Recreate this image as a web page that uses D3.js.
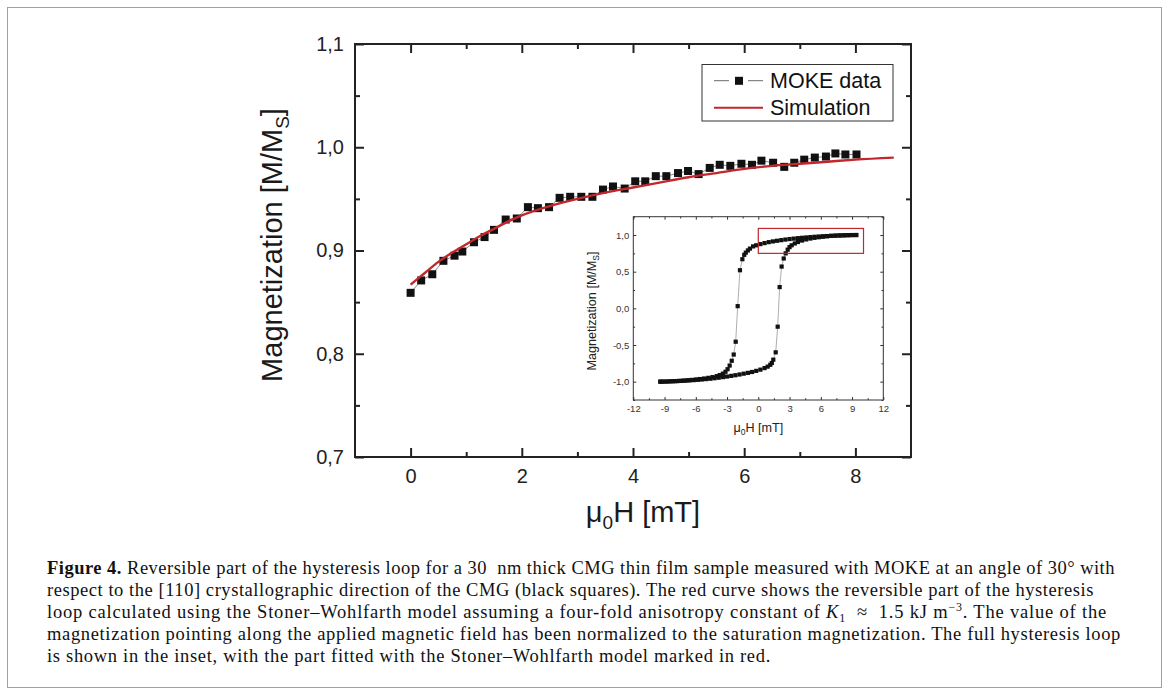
<!DOCTYPE html>
<html>
<head>
<meta charset="utf-8">
<script src="https://cdn.jsdelivr.net/npm/d3@7"></script>
<style>
  body { margin: 0; background: #fff; }
  svg { display: block; font-family: "Liberation Sans", Arial, sans-serif; }
</style>
</head>
<body>
<svg id="fig" width="1170" height="696"></svg>
<script>
// MOKE data, reversible part (mT, M/Ms)
const mokeH = [0.00, 0.19, 0.39, 0.59, 0.79, 0.93, 1.14, 1.33, 1.50, 1.71, 1.91, 2.11, 2.29, 2.49, 2.68,
  2.87, 3.07, 3.27, 3.46, 3.64, 3.85, 4.04, 4.22, 4.41, 4.60, 4.81, 4.99, 5.18, 5.38, 5.56,
  5.75, 5.95, 6.14, 6.31, 6.52, 6.72, 6.90, 7.08, 7.27, 7.47, 7.64, 7.82, 8.02];
const mokeM = [0.859, 0.871, 0.877, 0.890, 0.895, 0.899, 0.908, 0.913, 0.920, 0.930, 0.931, 0.942, 0.941, 0.942, 0.951,
  0.952, 0.952, 0.952, 0.959, 0.962, 0.960, 0.967, 0.967, 0.972, 0.972, 0.975, 0.977, 0.974, 0.980, 0.983,
  0.982, 0.984, 0.983, 0.987, 0.985, 0.981, 0.985, 0.988, 0.990, 0.991, 0.994, 0.993, 0.993];

// Stoner-Wohlfarth simulation
const simH = [0, 0.25, 0.5, 0.75, 1.0, 1.25, 1.5, 1.75, 2.0, 2.5, 3.0, 3.5, 4.0, 4.5, 5.0, 5.5, 6.0, 6.5, 7.0, 7.5, 8.0, 8.69];
const simM = [0.867, 0.878, 0.889, 0.898, 0.906, 0.914, 0.921, 0.928, 0.934, 0.943, 0.950, 0.956, 0.961, 0.966, 0.971, 0.975, 0.979, 0.982, 0.984, 0.986, 0.988, 0.990];

// inset: full loop, descending branch
const downH = [9.4, 9.0, 8.6, 8.2, 7.8, 7.4, 7.0, 6.6, 6.2, 5.8, 5.4, 5.0, 4.6, 4.2, 3.8, 3.4, 3.0, 2.6, 2.2, 1.8,
  1.4, 1.0, 0.6, 0.2, -0.2, -0.5, -0.8, -1.0, -1.2, -1.35, -1.53, -1.76, -1.98, -2.17, -2.36, -2.55, -2.75, -2.95,
  -3.15, -3.4, -3.7, -4.0, -4.4, -4.8, -5.2, -5.6, -6.0, -6.4, -6.8, -7.2, -7.6, -8.0, -8.4, -8.8, -9.2, -9.4];
const downM = [1.0, 0.999, 0.997, 0.995, 0.993, 0.991, 0.989, 0.986, 0.983, 0.980, 0.976, 0.972, 0.967, 0.962, 0.957, 0.951, 0.945, 0.938, 0.930, 0.922,
  0.913, 0.903, 0.890, 0.876, 0.860, 0.845, 0.815, 0.790, 0.760, 0.730, 0.670, 0.520, 0.030, -0.455, -0.630, -0.715, -0.780, -0.830,
  -0.865, -0.890, -0.910, -0.925, -0.938, -0.948, -0.957, -0.964, -0.970, -0.976, -0.981, -0.985, -0.989, -0.992, -0.995, -0.998, -1.0, -1.0];
// inset: ascending branch
const upH = [-9.4, -9.0, -8.6, -8.2, -7.8, -7.4, -7.0, -6.6, -6.2, -5.8, -5.4, -5.0, -4.6, -4.2, -3.8, -3.4, -3.0, -2.6, -2.2, -1.8,
  -1.4, -1.0, -0.6, -0.2, 0.2, 0.6, 0.9, 1.15, 1.3, 1.44, 1.67, 1.86, 2.05, 2.24, 2.44, 2.63, 2.82, 3.0, 3.2, 3.5,
  3.8, 4.2, 4.6, 5.0, 5.4, 5.8, 6.2, 6.6, 7.0, 7.4, 7.8, 8.2, 8.6, 9.0, 9.4];
const upM = [-1.0, -0.999, -0.997, -0.995, -0.993, -0.990, -0.987, -0.983, -0.979, -0.975, -0.970, -0.965, -0.960, -0.953, -0.946, -0.938, -0.930, -0.921, -0.912, -0.902,
  -0.891, -0.880, -0.868, -0.853, -0.836, -0.815, -0.795, -0.770, -0.745, -0.700, -0.600, -0.250, 0.290, 0.570, 0.680, 0.750, 0.800, 0.835, 0.860, 0.885,
  0.905, 0.925, 0.940, 0.952, 0.962, 0.970, 0.977, 0.983, 0.988, 0.992, 0.995, 0.997, 0.999, 1.0, 1.0];

// part of the loop fitted (red box in the inset)
const boxH = [0, 10.1];
const boxM = [0.75, 1.09];

// ticks
const xMajor = [0, 2, 4, 6, 8], xMinor = [1, 3, 5, 7];
const yMajor = [0.7, 0.8, 0.9, 1.0, 1.1], yMinor = [0.75, 0.85, 0.95, 1.05];
const ixMajor = [-12, -9, -6, -3, 0, 3, 6, 9, 12], ixMinor = [-10.5, -7.5, -4.5, -1.5, 1.5, 4.5, 7.5, 10.5];
const iyMajor = [-1.0, -0.5, 0.0, 0.5, 1.0], iyMinor = [-1.25, -0.75, -0.25, 0.25, 0.75, 1.25];

const legendNames = ["MOKE data", "Simulation"];

const captionLines = [
  "Reversible part of the hysteresis loop for a 30  nm thick CMG thin film sample measured with MOKE at an angle of 30° with",
  "respect to the [110] crystallographic direction of the CMG (black squares). The red curve shows the reversible part of the hysteresis",
  "loop calculated using the Stoner–Wohlfarth model assuming a four-fold anisotropy constant of ",
  "magnetization pointing along the applied magnetic field has been normalized to the saturation magnetization. The full hysteresis loop",
  "is shown in the inset, with the part fitted with the Stoner–Wohlfarth model marked in red."
];

const RED = "#c1272d";
const svg = d3.select("#fig");
svg.append("rect").attr("width", 1170).attr("height", 696).attr("fill", "#fff");
svg.append("rect").attr("x", 7.5).attr("y", 7.5).attr("width", 1154).attr("height", 680)
  .attr("fill", "none").attr("stroke", "#a0a0a0").attr("stroke-width", 1);

// Origin style labels: decimal comma, plain hyphen for minus
const comma = d => d3.format(".1f")(d).replace(".", ",").replace("−", "-");
const intf = d => d3.format("d")(d).replace("−", "-");

function axis(gen, tx, ty, vals, size, pad, fmt, fs, sw, col) {
  const g = svg.append("g").attr("transform", `translate(${tx},${ty})`)
    .call(gen.tickValues(vals).tickSize(size).tickPadding(pad).tickFormat(fmt));
  g.select(".domain").remove();
  g.attr("font-family", null).attr("font-size", fs).attr("color", col);
  g.selectAll(".tick line").attr("stroke-width", sw);
  return g;
}

// ---------- main plot ----------
const x = d3.scaleLinear().domain([-1, 9]).range([355, 911]);
const y = d3.scaleLinear().domain([0.7, 1.1]).range([457, 44]);

axis(d3.axisBottom(x), 0, 457, xMajor, -9, 12, intf, 20, 2, "#222");
axis(d3.axisBottom(x), 0, 457, xMinor, -5, 0, "", 20, 2, "#222");
axis(d3.axisTop(x), 0, 44, xMajor, -9, 0, "", 20, 2, "#222");
axis(d3.axisTop(x), 0, 44, xMinor, -5, 0, "", 20, 2, "#222");
axis(d3.axisLeft(y), 355, 0, yMajor, -9, 11, comma, 20, 2, "#222");
axis(d3.axisLeft(y), 355, 0, yMinor, -5, 0, "", 20, 2, "#222");
axis(d3.axisRight(y), 911, 0, yMajor, -9, 0, "", 20, 2, "#222");
axis(d3.axisRight(y), 911, 0, yMinor, -5, 0, "", 20, 2, "#222");

svg.append("rect").attr("x", x(-1)).attr("y", y(1.1))
  .attr("width", x(9) - x(-1)).attr("height", y(0.7) - y(1.1))
  .attr("fill", "none").attr("stroke", "#222").attr("stroke-width", 2);

// axis titles
const xt = svg.append("text").attr("x", 643).attr("y", 522).attr("text-anchor", "middle")
  .attr("font-size", 29).attr("fill", "#1a1a1a");
xt.append("tspan").text("μ");
xt.append("tspan").attr("font-size", 19).attr("dy", 7).text("0");
xt.append("tspan").attr("dy", -7).text("H [mT]");

const yt = svg.append("text").attr("transform", "translate(282,245) rotate(-90)")
  .attr("text-anchor", "middle").attr("font-size", 29).attr("fill", "#1a1a1a");
yt.append("tspan").text("Magnetization [M/M");
yt.append("tspan").attr("font-size", 19).attr("dy", 7).text("S");
yt.append("tspan").attr("dy", -7).text("]");

// data
const moke = mokeH.map((h, i) => [h, mokeM[i]]);
const sim = simH.map((h, i) => [h, simM[i]]);

svg.append("path").attr("d", d3.line().x(d => x(d[0])).y(d => y(d[1]))(moke))
  .attr("fill", "none").attr("stroke", "#555").attr("stroke-width", 0.7);
svg.append("g").selectAll("rect").data(moke).join("rect")
  .attr("x", d => x(d[0]) - 4).attr("y", d => y(d[1]) - 4)
  .attr("width", 8).attr("height", 8).attr("fill", "#111");
svg.append("path").attr("d", d3.line().x(d => x(d[0])).y(d => y(d[1])).curve(d3.curveMonotoneX)(sim))
  .attr("fill", "none").attr("stroke", RED).attr("stroke-width", 2.4);

// legend
const lg = svg.append("g");
lg.append("rect").attr("x", 702).attr("y", 64.5).attr("width", 191).attr("height", 56.5)
  .attr("fill", "#fff").attr("stroke", "#333").attr("stroke-width", 1);
lg.append("line").attr("x1", 714).attr("x2", 729).attr("y1", 80.7).attr("y2", 80.7).attr("stroke", "#444").attr("stroke-width", 0.8);
lg.append("line").attr("x1", 748).attr("x2", 763).attr("y1", 80.7).attr("y2", 80.7).attr("stroke", "#444").attr("stroke-width", 0.8);
lg.append("rect").attr("x", 735).attr("y", 76.8).attr("width", 8).attr("height", 8).attr("fill", "#111");
lg.append("line").attr("x1", 714).attr("x2", 763).attr("y1", 107.7).attr("y2", 107.7).attr("stroke", RED).attr("stroke-width", 2);
lg.selectAll("text.lab").data(legendNames).join("text").attr("class", "lab")
  .attr("x", 770).attr("y", (d, i) => 88 + i * 27.3)
  .attr("font-size", 21.5).attr("fill", "#111").text(d => d);

// ---------- inset ----------
const xi = d3.scaleLinear().domain([-12, 12]).range([633.3, 883.3]);
const yi = d3.scaleLinear().domain([-1.25, 1.25]).range([400, 216.7]);

svg.append("rect").attr("x", xi(-12)).attr("y", yi(1.25))
  .attr("width", xi(12) - xi(-12)).attr("height", yi(-1.25) - yi(1.25))
  .attr("fill", "#fff");

axis(d3.axisBottom(xi), 0, 400, ixMajor, -3, 5, intf, 9.5, 1, "#333");
axis(d3.axisBottom(xi), 0, 400, ixMinor, -1.8, 0, "", 9.5, 1, "#333");
axis(d3.axisTop(xi), 0, 216.7, ixMajor, -3, 0, "", 9.5, 1, "#333");
axis(d3.axisTop(xi), 0, 216.7, ixMinor, -1.8, 0, "", 9.5, 1, "#333");
axis(d3.axisLeft(yi), 633.3, 0, iyMajor, -3, 4, comma, 9.5, 1, "#333");
axis(d3.axisLeft(yi), 633.3, 0, iyMinor, -1.8, 0, "", 9.5, 1, "#333");
axis(d3.axisRight(yi), 883.3, 0, iyMajor, -3, 0, "", 9.5, 1, "#333");
axis(d3.axisRight(yi), 883.3, 0, iyMinor, -1.8, 0, "", 9.5, 1, "#333");

svg.append("rect").attr("x", xi(-12)).attr("y", yi(1.25))
  .attr("width", xi(12) - xi(-12)).attr("height", yi(-1.25) - yi(1.25))
  .attr("fill", "none").attr("stroke", "#333").attr("stroke-width", 1);

const ixt = svg.append("text").attr("x", 758.3).attr("y", 432).attr("text-anchor", "middle")
  .attr("font-size", 12.6).attr("fill", "#222");
ixt.append("tspan").text("μ");
ixt.append("tspan").attr("font-size", 8.5).attr("dy", 3).text("0");
ixt.append("tspan").attr("dy", -3).text("H [mT]");

const iyt = svg.append("text").attr("transform", "translate(596,311) rotate(-90)")
  .attr("text-anchor", "middle").attr("font-size", 12.6).attr("fill", "#222");
iyt.append("tspan").text("Magnetization [M/M");
iyt.append("tspan").attr("font-size", 8.5).attr("dy", 3).text("S");
iyt.append("tspan").attr("dy", -3).text("]");

const branches = [downH.map((h, i) => [h, downM[i]]), upH.map((h, i) => [h, upM[i]])];
const il = d3.line().x(d => xi(d[0])).y(d => yi(d[1]));
branches.forEach(b => {
  svg.append("path").attr("d", il(b)).attr("fill", "none").attr("stroke", "#999").attr("stroke-width", 0.8);
});
branches.forEach(b => {
  svg.append("g").selectAll("rect").data(b).join("rect")
    .attr("x", d => xi(d[0]) - 2.1).attr("y", d => yi(d[1]) - 2.1)
    .attr("width", 4.2).attr("height", 4.2).attr("fill", "#111");
});

svg.append("rect").attr("x", xi(boxH[0])).attr("y", yi(boxM[1]))
  .attr("width", xi(boxH[1]) - xi(boxH[0])).attr("height", yi(boxM[0]) - yi(boxM[1]))
  .attr("fill", "none").attr("stroke", RED).attr("stroke-width", 1.2);

// ---------- caption ----------
const capRight = [1115, 1094, 1107, 1121, 771];
const cap = svg.append("g").attr("font-family", "'Liberation Serif', 'Times New Roman', serif")
  .attr("font-size", 18.5).attr("fill", "#111");
captionLines.forEach((line, i) => {
  const t = cap.append("text").attr("x", 47).attr("y", 574 + i * 22).style("white-space", "pre");
  if (i === 0) t.append("tspan").attr("font-weight", "bold").text("Figure 4. ");
  t.append("tspan").text(line);
  if (i === 2) {
    t.append("tspan").attr("font-style", "italic").text("K");
    t.append("tspan").attr("font-size", 12).attr("dy", 4).text("1");
    t.append("tspan").attr("dy", -4).text("  ≈  1.5 kJ m");
    t.append("tspan").attr("font-size", 12).attr("dy", -7).text("−3");
    t.append("tspan").attr("dy", 7).text(". The value of the");
  }
  const w = t.node().getComputedTextLength();
  const n = t.text().length;
  const ls = (capRight[i] - 47 - w) / n;
  t.style("letter-spacing", ls + "px");
});
</script>
</body>
</html>
